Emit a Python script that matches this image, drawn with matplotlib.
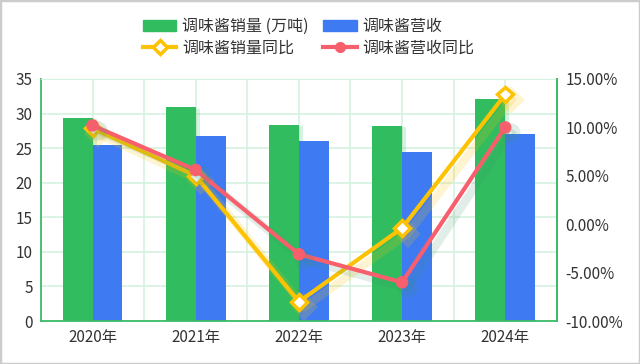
import matplotlib
matplotlib.use("Agg")
import matplotlib.pyplot as plt
import matplotlib.patheffects as pe
from matplotlib.lines import Line2D
from matplotlib.patches import Patch, Rectangle
import numpy as np

plt.rcParams['font.family'] = ['Noto Sans CJK SC', 'DejaVu Sans']

years = ['2020年', '2021年', '2022年', '2023年', '2024年']
sales_volume = [29.4, 30.9, 28.4, 28.2, 32.1]      # 万吨
revenue = [25.4, 26.8, 26.0, 24.5, 27.0]
volume_yoy = [9.9, 5.0, -8.0, -0.4, 13.4]          # %
revenue_yoy = [10.2, 5.6, -3.1, -6.0, 10.0]        # %
labels = ['调味酱销量 (万吨)', '调味酱销量同比', '调味酱营收', '调味酱营收同比']

green = '#31bc5f'
blue = '#3e7bf2'
yellow = '#fdc201'
red = '#f85f6c'
grid_c = '#d4f2df'
spine_c = '#3dbb66'
text_c = '#333333'

fig = plt.figure(figsize=(6.4, 3.64), dpi=100)
fig.patches.append(Rectangle((0, 0), 1, 1, transform=fig.transFigure, fill=False,
                             edgecolor='#cccccc', linewidth=2.5, zorder=10))
ax = fig.add_axes([0.064, 0.118, 0.806, 0.665])
x = np.arange(len(years))
w = 0.29
shadow = [pe.SimplePatchShadow(offset=(3, -1), shadow_rgbFace=green, alpha=0.2), pe.Normal()]
ax.bar(x - w / 2, sales_volume, width=w, color=green, zorder=2, path_effects=shadow)
ax.bar(x + w / 2, revenue, width=w, color=blue, zorder=2)

ax.set_xlim(-0.5, len(years) - 0.5)
ax.set_ylim(0, 35)
ax.set_yticks(np.arange(0, 36, 5))
ax.set_xticks(x)
ax.set_xticklabels(years)
ax.set_xticks(np.arange(-0.5, len(years), 1.0), minor=True)
ax.grid(True, which='both', color=grid_c, linewidth=1.2, zorder=0)
ax.set_axisbelow(True)
ax.tick_params(axis='both', which='both', length=0, labelsize=11, colors=text_c, pad=6)
for s in ['left', 'bottom', 'right']:
    ax.spines[s].set_color(spine_c)
    ax.spines[s].set_linewidth(1.3)
ax.spines['top'].set_color(grid_c)

ax2 = ax.twinx()
ax2.set_ylim(-10, 15)
ax2.set_yticks(np.arange(-10, 16, 5))
ax2.set_yticklabels([f'{v:.2f}%' for v in np.arange(-10, 16, 5)])
ax2.tick_params(axis='y', length=0, labelsize=11, colors=text_c, pad=6)
for s in ['left', 'bottom', 'top']:
    ax2.spines[s].set_visible(False)
ax2.spines['right'].set_color(spine_c)
ax2.spines['right'].set_linewidth(1.3)

ax2.plot(x, volume_yoy, color=yellow, linewidth=3, marker='D', markersize=8,
         markerfacecolor='white', markeredgecolor=yellow, markeredgewidth=2.5, zorder=4,
         path_effects=[pe.SimpleLineShadow(offset=(4, -4), shadow_color=yellow, alpha=0.18,
                                           linewidth=6), pe.Normal()])
ax2.plot(x, revenue_yoy, color=red, linewidth=3, marker='o', markersize=8,
         markerfacecolor=red, markeredgecolor=red, zorder=5,
         path_effects=[pe.SimpleLineShadow(offset=(4, -4), shadow_color='#3a8f66', alpha=0.15,
                                           linewidth=6), pe.Normal()])

handles = [
    Patch(facecolor=green, edgecolor=green),
    Line2D([], [], color=yellow, linewidth=3, marker='D', markersize=7,
           markerfacecolor='white', markeredgecolor=yellow, markeredgewidth=2.5),
    Patch(facecolor=blue, edgecolor=blue),
    Line2D([], [], color=red, linewidth=3, marker='o', markersize=7),
]
fig.legend(handles, labels, loc='upper center', bbox_to_anchor=(0.482, 0.99), ncol=2,
           frameon=False, fontsize=11.5, handlelength=2.1, handleheight=0.65,
           columnspacing=0.9, labelspacing=0.3, handletextpad=0.35, labelcolor=text_c)

fig.savefig('out.png', dpi=100)
